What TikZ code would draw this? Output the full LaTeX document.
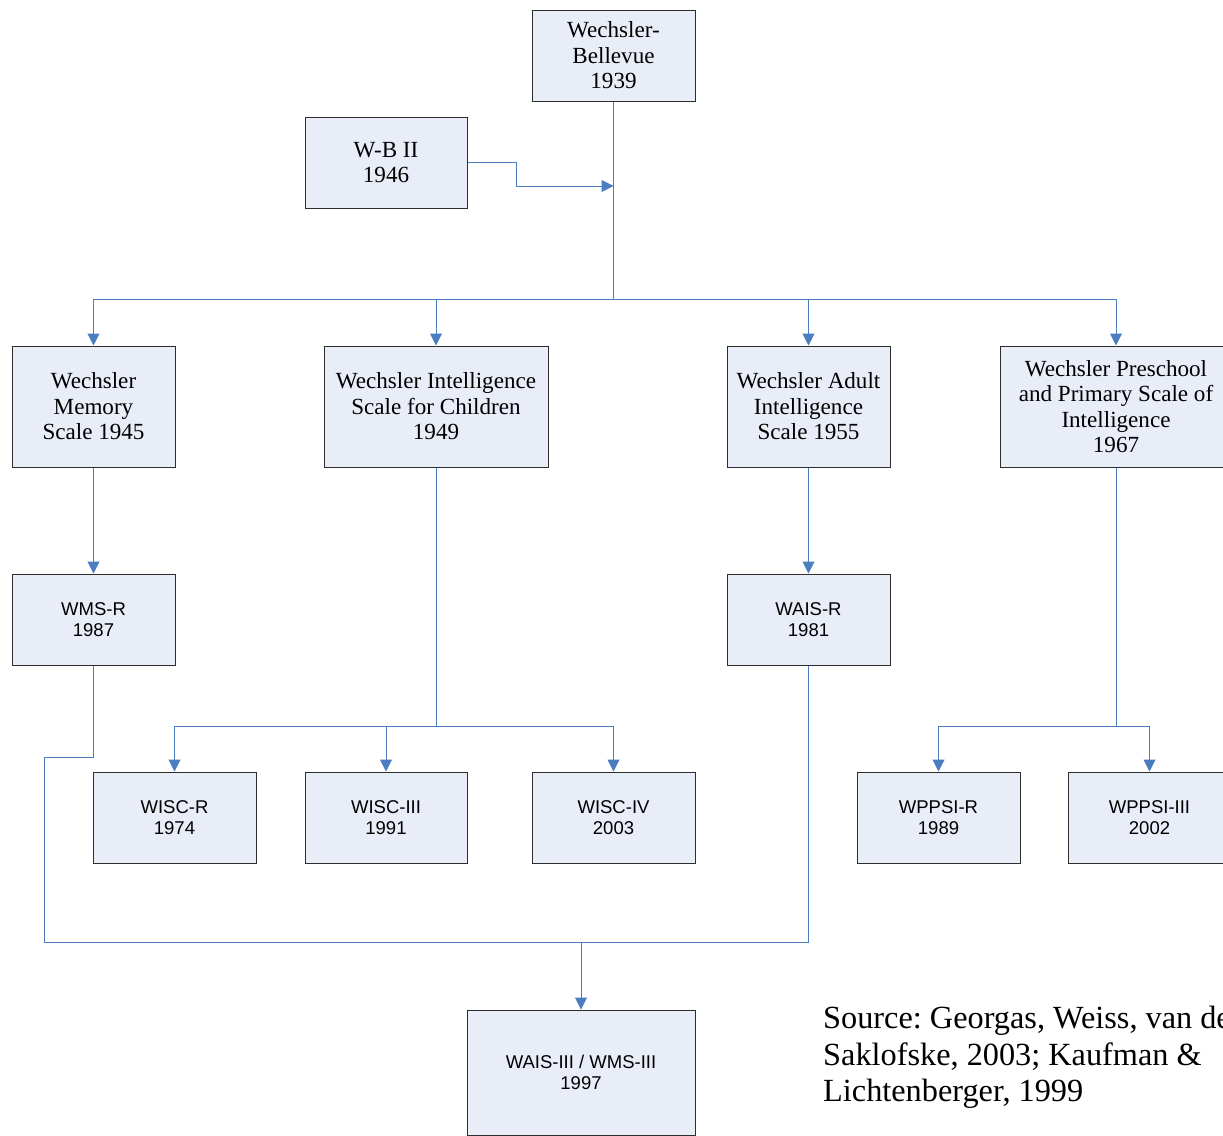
\documentclass[tikz,border=0pt]{standalone}
\usepackage{fontspec}
\setmainfont{Liberation Serif}
\newfontfamily\arialfont{Liberation Sans}
\usetikzlibrary{arrows.meta}
\definecolor{boxfill}{RGB}{232,237,247}
\definecolor{boxline}{RGB}{45,45,45}
\definecolor{conncol}{RGB}{74,126,193}
\frenchspacing
\begin{document}
\begin{tikzpicture}[x=1pt,y=-1pt,
  box/.style={draw=boxline,fill=boxfill,line width=1pt,inner sep=0pt,align=center},
  serifbox/.style={box,font=\fontsize{23.1}{25.5}\selectfont},
  sansbox/.style={box,font=\arialfont\fontsize{18.5}{20.5}\selectfont},
  conn/.style={draw=conncol,line width=1pt},
  arr/.style={conn,-{Triangle[length=12pt,width=12pt]}}]
\useasboundingbox (0,0) rectangle (1223,1135);
% boxes
\node[serifbox,minimum width=163pt,minimum height=91pt] (wb) at (613.5,55.5) {Wechsler-\\Bellevue\\1939};
\node[serifbox,minimum width=162pt,minimum height=91pt] (wb2) at (386,162.5) {W-B II\\1946};
\node[serifbox,minimum width=163pt,minimum height=121pt] (wms) at (93.5,406.5) {Wechsler\\Memory\\Scale 1945};
\node[serifbox,minimum width=224pt,minimum height=121pt] (wisc) at (436,406.5) {Wechsler Intelligence\\Scale for Children\\1949};
\node[serifbox,minimum width=163pt,minimum height=121pt] (wais) at (808.5,406.5) {Wechsler Adult\\Intelligence\\Scale 1955};
\node[serifbox,minimum width=232pt,minimum height=121pt] (wppsi) at (1116,406.5) {Wechsler Preschool\\and Primary Scale of\\Intelligence\\1967};
\node[sansbox,minimum width=163pt,minimum height=91pt] (wmsr) at (93.5,619.5) {WMS-R\\1987};
\node[sansbox,minimum width=163pt,minimum height=91pt] (waisr) at (808.5,619.5) {WAIS-R\\1981};
\node[sansbox,minimum width=163pt,minimum height=91pt] (wiscr) at (174.5,817.5) {WISC-R\\1974};
\node[sansbox,minimum width=162pt,minimum height=91pt] (wisc3) at (386,817.5) {WISC-III\\1991};
\node[sansbox,minimum width=163pt,minimum height=91pt] (wisc4) at (613.5,817.5) {WISC-IV\\2003};
\node[sansbox,minimum width=163pt,minimum height=91pt] (wppsir) at (938.5,817.5) {WPPSI-R\\1989};
\node[sansbox,minimum width=163pt,minimum height=91pt] (wppsi3) at (1149.5,817.5) {WPPSI-III\\2002};
\node[sansbox,minimum width=228pt,minimum height=125pt] (wais3) at (581,1072.5) {WAIS-III / WMS-III\\1997};
% source text
\node[anchor=north west,inner sep=0pt,align=left,font=\fontsize{32.3}{36.5}\selectfont] (src) at (823,1006)
  {Source: Georgas, Weiss, van de\\Saklofske, 2003; Kaufman \&\\Lichtenberger, 1999};
% junction coordinates
\coordinate (bus) at (613.5,299);
\coordinate (wbj) at (613.5,186);
\coordinate (wbk1) at (516,162.5);
\coordinate (wbk2) at (516,186);
\coordinate (wj) at (436,726);
\coordinate (pj) at (1116,726);
\coordinate (lk) at (44,757);
\coordinate (lb) at (44,942);
\coordinate (rb) at (808.5,942);
\coordinate (mj) at (581,942);
% connectors
\draw[conn] (wb.south) -- (bus);
\draw[arr] (wb2.east) -- (wbk1) -- (wbk2) -- (wbj);
\draw[arr] (bus) -| (wms.north);
\draw[arr] (bus) -| (wisc.north);
\draw[arr] (bus) -| (wais.north);
\draw[arr] (bus) -| (wppsi.north);
\draw[arr] (wms) -- (wmsr);
\draw[arr] (wais) -- (waisr);
\draw[conn] (wisc.south) -- (wj);
\draw[arr] (wj) -| (wiscr.north);
\draw[arr] (wj) -| (wisc3.north);
\draw[arr] (wj) -| (wisc4.north);
\draw[conn] (wppsi.south) -- (pj);
\draw[arr] (pj) -| (wppsir.north);
\draw[arr] (pj) -| (wppsi3.north);
\draw[conn] (wmsr.south) |- (lk) -- (lb) -- (rb) -- (waisr.south);
\draw[arr] (mj) -- (wais3.north);
\end{tikzpicture}
\end{document}
